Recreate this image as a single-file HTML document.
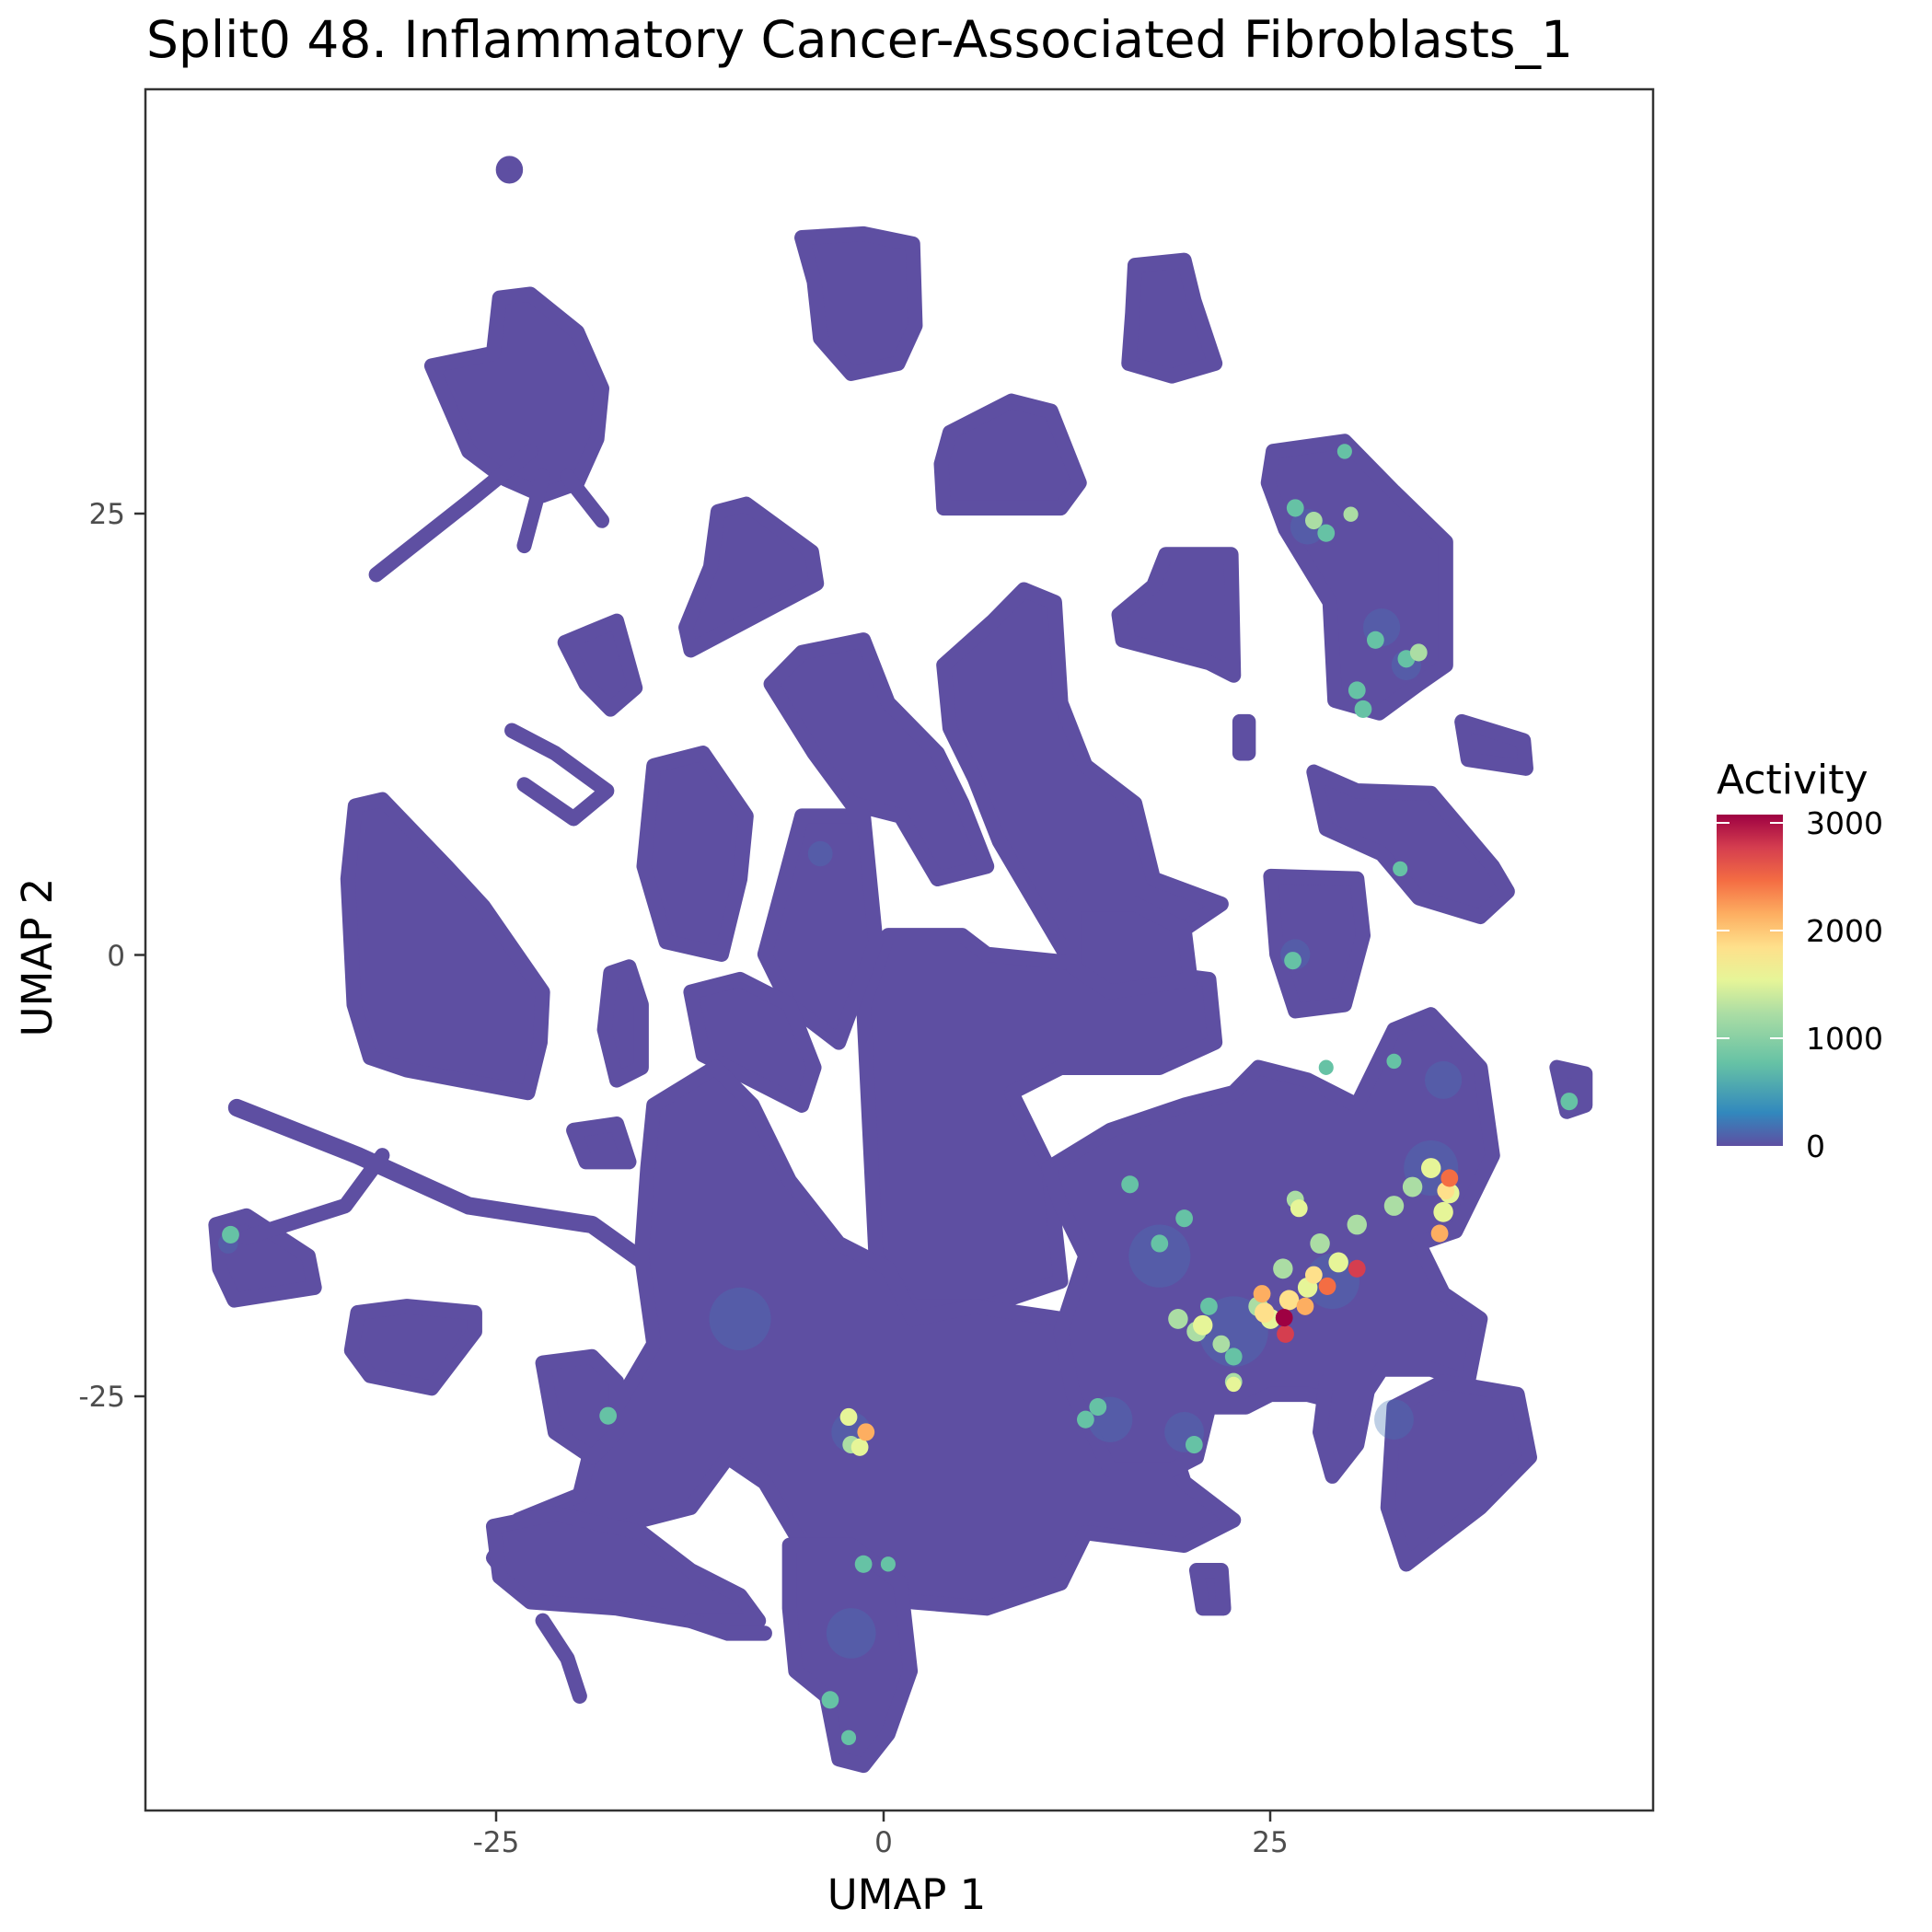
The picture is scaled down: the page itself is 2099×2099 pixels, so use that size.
<!DOCTYPE html>
<html><head><meta charset="utf-8"><style>html,body{margin:0;padding:0;background:#fff}svg{display:block}</style></head>
<body>
<svg width="2099" height="2099" viewBox="0 0 2099 2099" xmlns="http://www.w3.org/2000/svg" font-family="'DejaVu Sans','Liberation Sans',sans-serif">
<defs>
<linearGradient id="sp" x1="0" y1="1" x2="0" y2="0">
<stop offset="0" stop-color="#5e4fa2"/><stop offset="0.1" stop-color="#3288bd"/><stop offset="0.25" stop-color="#66c2a5"/><stop offset="0.4" stop-color="#abdda4"/><stop offset="0.5" stop-color="#e6f598"/><stop offset="0.6" stop-color="#fee08b"/><stop offset="0.7" stop-color="#fdae61"/><stop offset="0.8" stop-color="#f46d43"/><stop offset="0.9" stop-color="#d53e4f"/><stop offset="1" stop-color="#9e0142"/>
</linearGradient>
</defs>
<text x="159" y="62" font-size="55" fill="#000">Split0 48. Inflammatory Cancer-Associated Fibroblasts_1</text>
<g transform="translate(158,97) scale(1.3404,1.366) translate(-118,-72)">
<g fill="#5e4fa2" stroke="#5e4fa2" stroke-width="12" stroke-linejoin="round" stroke-linecap="round">
<circle cx="413" cy="136" r="5"/>
<polygon points="405,238 430,235 468,265 488,310 484,350 468,385 440,395 410,382 380,360 350,292 400,282"/>
<polyline fill="none" points="430,360 380,400 305,458"/>
<polyline fill="none" points="440,380 425,435"/><polyline fill="none" points="460,380 488,415"/>
<polygon points="650,190 700,187 740,195 742,260 728,290 690,298 665,270 660,225"/>
<polygon points="920,212 960,208 968,240 985,290 950,300 915,290 918,250"/>
<polygon points="770,345 820,320 852,328 875,385 860,405 765,405 763,370"/>
<polygon points="1032,360 1090,352 1130,392 1172,432 1172,530 1150,545 1118,568 1082,558 1078,480 1042,422 1028,385"/>
<polygon points="582,408 605,402 658,440 662,465 560,518 556,500 576,452"/>
<polygon points="945,442 998,442 1000,538 980,528 910,510 907,490 935,467"/>
<polygon points="458,512 500,495 515,548 495,565 475,545"/>
<polyline fill="none" points="415,582 450,600 492,630 465,652 425,625"/>
<polygon points="288,642 310,637 362,690 392,722 440,790 438,830 428,870 330,852 300,842 287,800 282,700"/>
<polyline fill="none" stroke-width="14" points="192,882 290,920 380,960 480,975 530,1010 580,1060 640,1080"/>
<polygon points="175,975 200,968 250,1000 255,1025 190,1035 178,1010"/>
<polyline fill="none" points="200,985 280,960 310,920"/>
<polygon points="290,1045 330,1040 385,1045 385,1060 350,1105 300,1095 285,1075"/>
<polygon points="1185,575 1235,590 1237,612 1190,605"/>
<polygon points="1065,615 1100,630 1160,632 1210,690 1222,710 1200,730 1150,715 1120,680 1075,660"/>
<polygon points="1030,698 1100,700 1105,745 1090,800 1050,805 1035,760"/>
<polygon points="1005,575 1012,575 1012,600 1005,600"/>
<polygon points="530,610 570,600 605,650 600,700 585,760 540,750 522,690"/>
<polygon points="625,545 650,520 700,510 720,560 760,600 780,640 800,690 760,700 730,650 690,640 660,600"/>
<polygon points="805,495 830,470 855,480 860,560 880,610 920,640 935,700 990,720 960,740 900,780 870,770 840,720 810,670 790,620 770,580 765,530"/>
<polygon points="720,745 780,745 800,760 900,770 980,780 985,830 940,850 860,850 820,870 850,930 860,1020 800,1040 740,1040 710,1000 705,900 700,800"/>
<polygon points="650,650 700,650 710,750 680,830 640,800 620,760"/>
<polygon points="560,790 600,780 640,800 660,850 650,880 610,860 570,840"/>
<polygon points="495,775 510,770 520,800 520,850 500,860 490,820"/>
<polygon points="465,900 500,895 510,925 475,925"/>
<polygon points="530,880 580,850 610,880 640,940 680,990 720,1010 740,1050 790,1040 860,1050 880,1120 900,1150 950,1150 960,1180 1000,1210 960,1230 880,1220 860,1260 800,1280 740,1275 700,1240 650,1230 620,1180 590,1160 560,1200 520,1210 470,1230 420,1265 400,1240 420,1210 470,1190 480,1150 500,1120 530,1070 520,1000 525,930"/>
<polygon points="400,1215 450,1205 520,1220 560,1250 600,1270 615,1290 560,1290 500,1280 430,1275 405,1255"/>
<polygon points="440,1085 480,1080 500,1100 500,1140 480,1160 450,1140"/>
<polygon points="640,1230 690,1230 730,1260 738,1330 720,1380 700,1405 680,1400 670,1350 645,1330 640,1280"/>
<polygon points="850,930 900,900 960,880 1000,870 1020,850 1060,860 1100,880 1130,820 1160,808 1200,850 1210,920 1180,980 1150,990 1170,1030 1200,1050 1190,1100 1160,1090 1120,1090 1100,1120 1060,1110 1030,1110 1010,1120 980,1120 970,1160 950,1170 900,1170 870,1110 860,1060 880,1000 860,960"/>
<polygon points="1130,1120 1170,1100 1230,1110 1240,1160 1200,1200 1140,1245 1125,1200"/>
<polygon points="1075,1100 1110,1100 1100,1150 1080,1175 1070,1140"/>
<polygon points="970,1250 990,1250 992,1280 975,1280"/>
<polygon points="870,720 920,720 960,740 965,780 900,790 870,770"/>
<polygon points="1262,850 1285,855 1285,880 1270,885"/>
<polyline fill="none" points="560,1290 590,1300 620,1300"/>
<polyline fill="none" points="440,1290 460,1320 470,1350"/>
</g>
<g stroke="none">
<g fill="#4575b4" opacity="0.35">
<circle cx="1060" cy="420" r="14"/><circle cx="1120" cy="500" r="15"/><circle cx="1140" cy="530" r="12"/>
<circle cx="1050" cy="760" r="12"/><circle cx="940" cy="1000" r="25"/><circle cx="1000" cy="1060" r="28"/><circle cx="1080" cy="1020" r="22"/><circle cx="1160" cy="930" r="22"/><circle cx="1170" cy="860" r="15"/>
<circle cx="600" cy="1050" r="25"/><circle cx="690" cy="1140" r="16"/><circle cx="690" cy="1300" r="20"/><circle cx="900" cy="1130" r="18"/><circle cx="960" cy="1140" r="16"/><circle cx="665" cy="680" r="10"/><circle cx="1130" cy="1130" r="16"/><circle cx="185" cy="990" r="8"/>
</g>
<g fill="#66c2a5">
<circle cx="1050" cy="405" r="7"/><circle cx="1075" cy="425" r="7"/><circle cx="1115" cy="510" r="7"/><circle cx="1140" cy="525" r="7"/><circle cx="1100" cy="550" r="7"/><circle cx="1105" cy="565" r="7"/><circle cx="1090" cy="360" r="6"/>
<circle cx="1048" cy="765" r="7"/><circle cx="1075" cy="850" r="6"/><circle cx="916" cy="943" r="7"/><circle cx="960" cy="970" r="7"/><circle cx="940" cy="990" r="7"/><circle cx="980" cy="1040" r="7"/><circle cx="1000" cy="1080" r="7"/><circle cx="1135" cy="692" r="6"/><circle cx="1272" cy="877" r="7"/>
<circle cx="890" cy="1120" r="7"/><circle cx="880" cy="1130" r="7"/><circle cx="968" cy="1150" r="7"/><circle cx="700" cy="1245" r="7"/><circle cx="720" cy="1245" r="6"/><circle cx="673" cy="1353" r="7"/><circle cx="688" cy="1383" r="6"/><circle cx="493" cy="1127" r="7"/><circle cx="187" cy="983" r="7"/><circle cx="1130" cy="845" r="6"/>
</g>
<g fill="#abdda4">
<circle cx="1065" cy="415" r="7"/><circle cx="1095" cy="410" r="6"/><circle cx="1150" cy="520" r="7"/><circle cx="1130" cy="960" r="8"/><circle cx="1145" cy="945" r="8"/><circle cx="1100" cy="975" r="8"/><circle cx="1070" cy="990" r="8"/><circle cx="1040" cy="1010" r="8"/><circle cx="1020" cy="1040" r="8"/><circle cx="970" cy="1060" r="8"/><circle cx="955" cy="1050" r="8"/><circle cx="990" cy="1070" r="7"/><circle cx="1000" cy="1100" r="7"/><circle cx="690" cy="1150" r="7"/><circle cx="1050" cy="955" r="7"/>
</g>
<g fill="#e6f598">
<circle cx="1160" cy="930" r="8"/><circle cx="1175" cy="950" r="8"/><circle cx="1170" cy="965" r="8"/><circle cx="1085" cy="1005" r="8"/><circle cx="1060" cy="1025" r="8"/><circle cx="1030" cy="1050" r="8"/><circle cx="975" cy="1055" r="8"/><circle cx="1053" cy="962" r="7"/><circle cx="688" cy="1128" r="7"/><circle cx="697" cy="1152" r="7"/><circle cx="1000" cy="1102" r="6"/>
</g>
<g fill="#fee08b">
<circle cx="1172" cy="948" r="7"/><circle cx="1045" cy="1035" r="8"/><circle cx="1025" cy="1045" r="8"/><circle cx="1065" cy="1015" r="7"/>
</g>
<g fill="#fdae61">
<circle cx="1167" cy="982" r="7"/><circle cx="1023" cy="1030" r="7"/><circle cx="1058" cy="1040" r="7"/><circle cx="702" cy="1140" r="7"/>
</g>
<g fill="#f46d43"><circle cx="1175" cy="938" r="7"/><circle cx="1076" cy="1024" r="7"/></g>
<g fill="#d53e4f"><circle cx="1100" cy="1010" r="7"/><circle cx="1042" cy="1062" r="7"/></g>
<circle cx="1041" cy="1049" r="7" fill="#9e0142"/>
</g>
</g>
<rect x="158" y="97" width="1638" height="1870" fill="none" stroke="#333" stroke-width="2.5"/>
<g stroke="#333" stroke-width="2.5">
<line x1="539" y1="1967" x2="539" y2="1979"/><line x1="960" y1="1967" x2="960" y2="1979"/><line x1="1380" y1="1967" x2="1380" y2="1979"/>
<line x1="146" y1="558" x2="158" y2="558"/><line x1="146" y1="1037.5" x2="158" y2="1037.5"/><line x1="146" y1="1517" x2="158" y2="1517"/>
</g>
<g font-size="31" fill="#4d4d4d">
<text x="539" y="2012" text-anchor="middle">-25</text><text x="960" y="2012" text-anchor="middle">0</text><text x="1380" y="2012" text-anchor="middle">25</text>
<text x="136" y="569" text-anchor="end">25</text><text x="136" y="1049" text-anchor="end">0</text><text x="136" y="1528" text-anchor="end">-25</text>
</g>
<text x="985" y="2074" font-size="45" text-anchor="middle">UMAP 1</text>
<text transform="translate(56,1040) rotate(-90)" font-size="45" text-anchor="middle">UMAP 2</text>
<text x="1865" y="862" font-size="44">Activity</text>
<rect x="1865" y="885" width="72" height="360" fill="url(#sp)"/>
<g stroke="#fff" stroke-width="2">
<line x1="1865" y1="894" x2="1879" y2="894"/><line x1="1923" y1="894" x2="1937" y2="894"/>
<line x1="1865" y1="1011" x2="1879" y2="1011"/><line x1="1923" y1="1011" x2="1937" y2="1011"/>
<line x1="1865" y1="1128" x2="1879" y2="1128"/><line x1="1923" y1="1128" x2="1937" y2="1128"/>
</g>
<g font-size="33" fill="#000">
<text x="1962" y="906">3000</text><text x="1962" y="1023">2000</text><text x="1962" y="1140">1000</text><text x="1962" y="1257">0</text>
</g>
</svg>
</body></html>
